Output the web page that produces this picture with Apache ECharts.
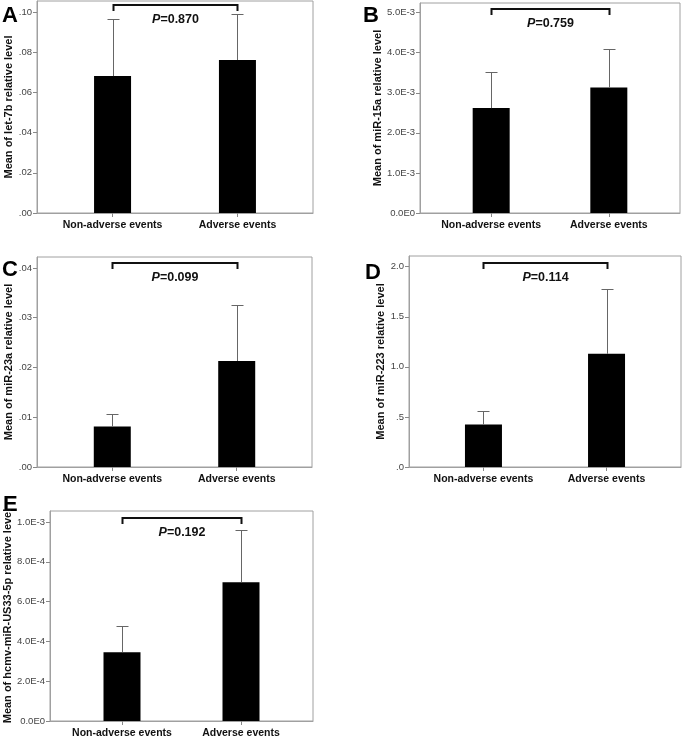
<!DOCTYPE html>
<html>
<head>
<meta charset="utf-8">
<script src="https://cdn.jsdelivr.net/npm/echarts@6/dist/echarts.min.js"></script>
<style>
  html, body { margin: 0; padding: 0; background: #fff; }
  #chart { width: 685px; height: 739px; }
</style>
</head>
<body>
<div id="chart"></div>
<script>
// ---------------- DATA ----------------
const categories = ['Non-adverse events', 'Adverse events'];
const panelLetters = ['A', 'B', 'C', 'D', 'E'];
const yTitles = [
  'Mean of let-7b relative level',
  'Mean of miR-15a relative level',
  'Mean of miR-23a relative level',
  'Mean of miR-223 relative level',
  'Mean of hcmv-miR-US33-5p relative level'
];
const pValues = ['0.870', '0.759', '0.099', '0.114', '0.192'];

// means and upper ends of error bars (mean + error)
const meanA = [0.0682, 0.0762];      const upperA = [0.0965, 0.0992];
const meanB = [0.002617, 0.00313];   const upperB = [0.00353, 0.00410];
const meanC = [0.00816, 0.0213];     const upperC = [0.01071, 0.0325];
const meanD = [0.424, 1.13];         const upperD = [0.564, 1.774];
const meanE = [0.000346, 0.000697];  const upperE = [0.000475, 0.000962];

// tick values and tick labels
const ticksA = [0, 0.02, 0.04, 0.06, 0.08, 0.10];
const tickLabelsA = ['.00', '.02', '.04', '.06', '.08', '.10'];
const ticksB = [0, 0.001, 0.002, 0.003, 0.004, 0.005];
const tickLabelsB = ['0.0E0', '1.0E-3', '2.0E-3', '3.0E-3', '4.0E-3', '5.0E-3'];
const ticksC = [0, 0.01, 0.02, 0.03, 0.04];
const tickLabelsC = ['.00', '.01', '.02', '.03', '.04'];
const ticksD = [0, 0.5, 1.0, 1.5, 2.0];
const tickLabelsD = ['.0', '.5', '1.0', '1.5', '2.0'];
const ticksE = [0, 0.0002, 0.0004, 0.0006, 0.0008, 0.001];
const tickLabelsE = ['0.0E0', '2.0E-4', '4.0E-4', '6.0E-4', '8.0E-4', '1.0E-3'];

// axis upper limits (top of each frame)
const axisMax = [0.1056, 0.00524, 0.0422, 2.107, 0.001055];

// ---------------- LAYOUT / STYLE ----------------
const FONT = '"Liberation Sans", Arial, sans-serif';
const grids = [
  { left: 37,  top: 1,   width: 276, height: 212 },
  { left: 420, top: 3,   width: 260, height: 210 },
  { left: 37,  top: 257, width: 275, height: 210 },
  { left: 409, top: 256, width: 272, height: 211 },
  { left: 50,  top: 511, width: 263, height: 210 }
];
const nameGaps = [21, 36, 22, 22, 33];
const bracketGaps = [4, 6, 6, 7, 7];
const letterPos = [[2, 5], [363, 5], [2, 259], [365, 262], [3, 494]];

const panels = [
  { mean: meanA, upper: upperA, ticks: ticksA, labels: tickLabelsA },
  { mean: meanB, upper: upperB, ticks: ticksB, labels: tickLabelsB },
  { mean: meanC, upper: upperC, ticks: ticksC, labels: tickLabelsC },
  { mean: meanD, upper: upperD, ticks: ticksD, labels: tickLabelsD },
  { mean: meanE, upper: upperE, ticks: ticksE, labels: tickLabelsE }
];
const catIndex = [1, 2];

const option = {
  animation: false,
  backgroundColor: '#fff',
  grid: [], xAxis: [], yAxis: [], series: [], graphic: []
};

panels.forEach(function (p, i) {
  option.grid.push(Object.assign({
    show: true, borderColor: '#a0a0a0', borderWidth: 1, backgroundColor: '#fff'
  }, grids[i]));

  option.xAxis.push({
    type: 'value', gridIndex: i, min: 0.395, max: 2.605,
    splitLine: { show: false },
    axisLine: { show: true, lineStyle: { color: '#a0a0a0', width: 1 } },
    axisTick: { show: true, customValues: catIndex, length: 4, lineStyle: { color: '#888' } },
    axisLabel: {
      show: true, customValues: catIndex, margin: 7,
      fontFamily: FONT, fontSize: 10.5, fontWeight: 'bold', color: '#111',
      formatter: function (v) { return categories[Math.round(v) - 1]; }
    }
  });

  option.yAxis.push({
    type: 'value', gridIndex: i, min: 0, max: axisMax[i],
    name: yTitles[i], nameLocation: 'middle', nameGap: nameGaps[i],
    nameTextStyle: { fontFamily: FONT, fontSize: 11, fontWeight: 'bold', color: '#111' },
    splitLine: { show: false },
    axisLine: { show: true, lineStyle: { color: '#a0a0a0', width: 1 } },
    axisTick: { show: true, customValues: p.ticks, length: 4, lineStyle: { color: '#888' } },
    axisLabel: {
      show: true, customValues: p.ticks, margin: 5,
      fontFamily: FONT, fontSize: 9.5, color: '#444',
      formatter: function (v) {
        let best = 0, bd = Infinity;
        p.ticks.forEach(function (t, k) { const d = Math.abs(t - v); if (d < bd) { bd = d; best = k; } });
        return p.labels[best];
      }
    }
  });

  option.series.push({
    type: 'bar', xAxisIndex: i, yAxisIndex: i, barWidth: 37,
    itemStyle: { color: '#000' },
    data: catIndex.map(function (c, k) { return [c, p.mean[k]]; })
  });

  option.series.push({
    type: 'custom', xAxisIndex: i, yAxisIndex: i, z: 5, clip: false,
    encode: { x: 0, y: [1, 2] },
    data: catIndex.map(function (c, k) { return [c, p.mean[k], p.upper[k]]; }),
    renderItem: function (params, api) {
      const x = api.value(0);
      const p0 = api.coord([x, api.value(1)]);
      const p1 = api.coord([x, api.value(2)]);
      const cx = Math.round(p0[0]) + 0.5;
      const yt = Math.round(p1[1]) + 0.5;
      return {
        type: 'group',
        children: [
          { type: 'line', shape: { x1: cx, y1: p0[1], x2: cx, y2: yt }, style: { stroke: '#666', lineWidth: 1 } },
          { type: 'line', shape: { x1: cx - 6, y1: yt, x2: cx + 6, y2: yt }, style: { stroke: '#666', lineWidth: 1 } }
        ]
      };
    }
  });

  option.series.push({
    type: 'custom', xAxisIndex: i, yAxisIndex: i, z: 6, clip: false,
    data: [[1.5, 0]],
    renderItem: function (params, api) {
      const cs = params.coordSys;
      const x1 = Math.round(api.coord([1, 0])[0]) + 0.5;
      const x2 = Math.round(api.coord([2, 0])[0]) + 0.5;
      const yb = cs.y + bracketGaps[i];
      return {
        type: 'group',
        children: [
          { type: 'polyline', shape: { points: [[x1, yb + 6], [x1, yb], [x2, yb], [x2, yb + 6]] },
            style: { stroke: '#111', lineWidth: 2, fill: null } },
          { type: 'text', style: {
              x: (x1 + x2) / 2, y: yb + 14.5, align: 'center', verticalAlign: 'middle',
              text: '{i|P}{b|=' + pValues[i] + '}',
              rich: {
                i: { fontFamily: FONT, fontSize: 12.5, fontWeight: 'bold', fontStyle: 'italic', fill: '#111' },
                b: { fontFamily: FONT, fontSize: 12.5, fontWeight: 'bold', fill: '#111' }
              }
          } }
        ]
      };
    }
  });

  option.graphic.push({
    type: 'text', x: letterPos[i][0], y: letterPos[i][1],
    style: { text: panelLetters[i], font: 'bold 22px ' + FONT, fill: '#000', verticalAlign: 'top' }
  });
});

const chart = echarts.init(document.getElementById('chart'), null, { renderer: 'canvas' });
chart.setOption(option);
</script>
</body>
</html>
